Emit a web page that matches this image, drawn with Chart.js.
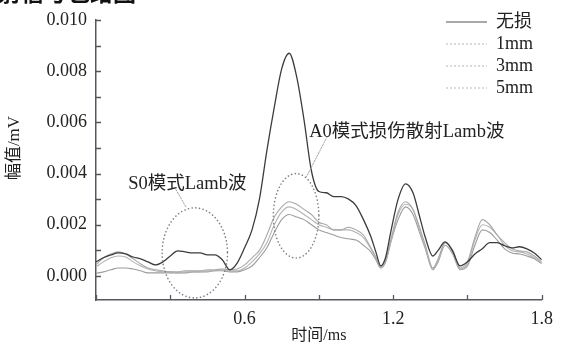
<!DOCTYPE html>
<html><head><meta charset="utf-8">
<script src="https://cdn.jsdelivr.net/npm/chart.js@4.4.1/dist/chart.umd.min.js"></script>
<style>html,body{margin:0;padding:0;background:#fff;overflow:hidden}#wrap{position:relative;width:561px;height:347px}</style>
</head><body><div id="wrap"><canvas id="c" width="561" height="347"></canvas></div>
<script>
// ---- data (time in ms, amplitude in mV) ----
const time = [
  0, 0.03, 0.06, 0.09, 0.12, 0.15, 0.18, 0.21, 0.24, 0.27,
  0.30, 0.33, 0.36, 0.39, 0.42, 0.45, 0.48, 0.51, 0.54, 0.57,
  0.60, 0.63, 0.66, 0.69, 0.72, 0.75, 0.78, 0.81, 0.84, 0.87,
  0.90, 0.93, 0.96, 0.99, 1.02, 1.05, 1.08, 1.11,
  1.13, 1.15, 1.17, 1.19, 1.22, 1.25, 1.28, 1.31,
  1.33, 1.36, 1.38, 1.41, 1.44, 1.47,
  1.50, 1.53, 1.56, 1.59, 1.62, 1.65, 1.68, 1.71, 1.74, 1.77, 1.80
];
const intact = [
  0.00055, 0.00071, 0.00082, 0.0009, 0.00086, 0.00074, 0.00067, 0.00055, 0.00043, 0.00055,
  0.00078, 0.00098, 0.00094, 0.0009, 0.0009, 0.00082, 0.00082, 0.00063, 0.00024, 0.0005,
  0.0011, 0.0018, 0.003, 0.0049, 0.0066, 0.0081, 0.0087, 0.0078, 0.0061, 0.0041,
  0.0033, 0.00325, 0.0031, 0.0031, 0.003, 0.00275, 0.0022, 0.00153,
  0.00094, 0.00039, 0.00074, 0.0017, 0.003, 0.0036, 0.00325, 0.0022,
  0.0015, 0.00078, 0.00098, 0.00133, 0.00098, 0.00039,
  0.00055, 0.00086, 0.00106, 0.0013, 0.0013, 0.00118, 0.0011, 0.00114, 0.00106, 0.0009, 0.00063
];
const damage1mm = [
  0.00043, 0.00071, 0.00086, 0.00094, 0.00086, 0.00067, 0.00047, 0.00031, 0.00024, 0.0002,
  0.00016, 0.00016, 0.0002, 0.0002, 0.0002, 0.00024, 0.00024, 0.00027, 0.00024, 0.00027,
  0.00043, 0.00071, 0.001, 0.0016, 0.0023, 0.0027, 0.0029, 0.0028, 0.0026, 0.0024,
  0.0021, 0.002, 0.0018, 0.0018, 0.0019, 0.0018, 0.0016, 0.0011,
  0.00074, 0.00035, 0.00063, 0.0014, 0.0025, 0.0029, 0.0026, 0.0018,
  0.0012, 0.00031, 0.00063, 0.0013, 0.001, 0.00031,
  0.00055, 0.0015, 0.0022, 0.002, 0.0016, 0.0013, 0.00106, 0.00098, 0.00094, 0.00078, 0.00055
];
const damage3mm = [
  0.00035, 0.00055, 0.00071, 0.00078, 0.00074, 0.00055, 0.00039, 0.00027, 0.0002, 0.00016,
  0.00016, 0.00012, 0.00016, 0.00016, 0.00016, 0.0002, 0.0002, 0.00024, 0.0002, 0.0002,
  0.00031, 0.00055, 0.00086, 0.0013, 0.002, 0.0025, 0.0027, 0.0026, 0.0024, 0.0022,
  0.002, 0.0019, 0.0018, 0.0018, 0.0018, 0.0017, 0.0015, 0.00106,
  0.00071, 0.00031, 0.00059, 0.0013, 0.0024, 0.0028, 0.0026, 0.0017,
  0.0011, 0.00027, 0.00055, 0.0013, 0.00094, 0.00027,
  0.00047, 0.0014, 0.002, 0.0019, 0.0016, 0.0012, 0.00098, 0.00094, 0.00086, 0.00071, 0.00051
];
const damage5mm = [
  0.0001, 0.00016, 0.00024, 0.00031, 0.00031, 0.00027, 0.0002, 0.00012, 0.00012, 0.00012,
  0.00012, 0.00012, 0.00012, 0.00016, 0.00016, 0.00016, 0.0002, 0.0002, 0.00016, 0.00016,
  0.00024, 0.00039, 0.00071, 0.0011, 0.0017, 0.0022, 0.0024, 0.0023, 0.0022, 0.002,
  0.0018, 0.0017, 0.0016, 0.0015, 0.00145, 0.0014, 0.0012, 0.00094,
  0.00063, 0.00031, 0.00055, 0.0013, 0.0022, 0.0027, 0.0024, 0.0016,
  0.00106, 0.00024, 0.00051, 0.0012, 0.00086, 0.00024,
  0.00039, 0.0012, 0.0018, 0.0017, 0.0014, 0.00106, 0.0009, 0.00086, 0.00078, 0.00067, 0.00047
];
const seriesLabels = ['无损', '1mm', '3mm', '5mm'];
const xTickValues = [0, 0.3, 0.6, 0.9, 1.2, 1.5, 1.8];
const xTickLabels = ['', '', '0.6', '', '1.2', '', '1.8'];
const yTickValues = [0, 0.001, 0.002, 0.003, 0.004, 0.005, 0.006, 0.007, 0.008, 0.009, 0.010];
const yTickLabels = ['0.000', '', '0.002', '', '0.004', '', '0.006', '', '0.008', '', '0.010'];
const xTitle = '时间/ms';
const yTitle = '幅值/mV';
const topTitle = '射信号包络图';
const noteS0 = 'S0模式Lamb波';
const noteA0 = 'A0模式损伤散射Lamb波';

// ---- styling / annotation geometry (data units) ----
const SERIF = '"Liberation Serif", "Noto Sans CJK SC", serif';
const axisColor = '#5a5560';
const seriesColors = ['#3c3c3c', '#a8a8a8', '#b4b4b4', '#9c9c9c'];
const ellipses = [
  {cx: 0.399, cy: 0.0009, rx: 0.132, ry: 0.00176},
  {cx: 0.808, cy: 0.00235, rx: 0.092, ry: 0.00165}
];
const leaders = [
  {x1: 0.323, y1: 0.00337, x2: 0.363, y2: 0.0027},
  {x1: 0.934, y1: 0.00545, x2: 0.85, y2: 0.00388}
];
const notes = [
  {text: noteS0, x: 0.369, y: 0.00357},
  {text: noteA0, x: 1.255, y: 0.0056}
];

const mk = (vals) => time.map((t, i) => ({x: t, y: vals[i]}));
const allSeries = [intact, damage1mm, damage3mm, damage5mm];

const extras = {
  id: 'extras',
  afterLayout(chart) {
    const lg = chart.legend;
    if (!lg) return;
    lg.left = 442; lg.top = 9; lg.right = 558; lg.bottom = 110;
    lg.width = lg.right - lg.left; lg.height = lg.bottom - lg.top;
  },
  afterDatasetsDraw(chart) {
    const {ctx, scales: {x, y}} = chart;
    ctx.save();
    ctx.strokeStyle = '#808080';
    ctx.lineWidth = 1.6;
    ctx.lineCap = 'round';
    ctx.setLineDash([0.1, 3.6]);
    ellipses.forEach(e => {
      const cx = x.getPixelForValue(e.cx), cy = y.getPixelForValue(e.cy);
      const rx = Math.abs(x.getPixelForValue(e.cx + e.rx) - cx);
      const ry = Math.abs(y.getPixelForValue(e.cy + e.ry) - cy);
      ctx.beginPath(); ctx.ellipse(cx, cy, rx, ry, 0, 0, Math.PI * 2); ctx.stroke();
    });
    ctx.lineWidth = 1;
    ctx.strokeStyle = '#a0a0a0';
    ctx.setLineDash([1.5, 1.5]);
    leaders.forEach(l => {
      ctx.beginPath();
      ctx.moveTo(x.getPixelForValue(l.x1), y.getPixelForValue(l.y1));
      ctx.lineTo(x.getPixelForValue(l.x2), y.getPixelForValue(l.y2));
      ctx.stroke();
    });
    ctx.setLineDash([]);
    ctx.fillStyle = '#222';
    ctx.font = '18.5px ' + SERIF;
    ctx.textAlign = 'center'; ctx.textBaseline = 'middle';
    notes.forEach(n => ctx.fillText(n.text, x.getPixelForValue(n.x), y.getPixelForValue(n.y)));
    ctx.restore();
  },
  afterDraw(chart) {
    const {ctx, chartArea: a, scales: {x, y}} = chart;
    ctx.save();
    ctx.strokeStyle = axisColor; ctx.lineWidth = 1.3;
    ctx.beginPath();
    xTickValues.forEach(v => { const px = Math.round(x.getPixelForValue(v)) + 0.5; ctx.moveTo(px, a.bottom); ctx.lineTo(px, a.bottom - 5); });
    yTickValues.forEach(v => { const py = Math.round(y.getPixelForValue(v)) + 0.5; ctx.moveTo(a.left, py); ctx.lineTo(a.left + 5, py); });
    ctx.stroke();
    // y axis title
    ctx.fillStyle = '#222';
    ctx.font = '17px ' + SERIF;
    ctx.textAlign = 'center'; ctx.textBaseline = 'middle';
    ctx.translate(15, 148); ctx.rotate(-Math.PI / 2);
    ctx.fillText(yTitle, 0, 0);
    ctx.restore();
    // clipped heading at top
    ctx.save();
    ctx.fillStyle = '#111';
    ctx.font = 'bold 23px "Noto Sans CJK SC"';
    ctx.textAlign = 'left'; ctx.textBaseline = 'alphabetic';
    ctx.fillText(topTitle, -2, 1);
    ctx.restore();
  }
};

new Chart(document.getElementById('c'), {
  type: 'line',
  data: {
    datasets: allSeries.map((vals, i) => ({
      label: seriesLabels[i],
      data: mk(vals),
      borderColor: seriesColors[i],
      backgroundColor: seriesColors[i],
      borderWidth: i === 0 ? 1.3 : 1.1,
      pointRadius: 0,
      cubicInterpolationMode: 'monotone',
      fill: false
    }))
  },
  options: {
    responsive: false,
    animation: false,
    devicePixelRatio: 1,
    layout: {padding: {top: 20, right: 14, left: 0, bottom: 0}},
    plugins: {
      tooltip: {enabled: false},
      legend: {
        position: 'chartArea',
        align: 'start',
        labels: {
          usePointStyle: true,
          pointStyle: 'line',
          pointStyleWidth: 41,
          padding: 4,
          color: '#222',
          font: {size: 18, family: SERIF},
          generateLabels(chart) {
            const items = Chart.defaults.plugins.legend.labels.generateLabels(chart);
            items.forEach((it, i) => {
              it.pointStyle = 'line';
              if (i > 0) { it.lineDash = [2, 2]; it.strokeStyle = '#b8b8b8'; it.lineWidth = 1; }
              else { it.lineWidth = 1.2; it.strokeStyle = '#555'; }
            });
            return items;
          }
        }
      }
    },
    scales: {
      x: {
        type: 'linear', min: 0, max: 1.8,
        afterBuildTicks(s) { s.ticks = xTickValues.map(v => ({value: v})); },
        afterFit(s) { s.height = 47; },
        grid: {display: false, drawTicks: false},
        border: {display: true, color: axisColor, width: 1.5},
        ticks: {
          padding: 8, color: '#222', font: {size: 18, family: SERIF}, maxRotation: 0, autoSkip: false,
          callback(v, i) { return xTickLabels[i]; }
        },
        title: {display: true, text: xTitle, color: '#222', font: {size: 16, family: SERIF}, padding: {top: 0, bottom: 2}}
      },
      y: {
        type: 'linear', min: -0.00094, max: 0.010,
        afterBuildTicks(s) { s.ticks = yTickValues.map(v => ({value: v})); },
        afterFit(s) { s.width = 96; },
        grid: {display: false, drawTicks: false},
        border: {display: true, color: axisColor, width: 1.5},
        ticks: {
          padding: 9, color: '#222', font: {size: 18, family: SERIF}, autoSkip: false,
          callback(v, i) { return yTickLabels[i]; }
        }
      }
    }
  },
  plugins: [extras]
});
</script>
</body></html>
